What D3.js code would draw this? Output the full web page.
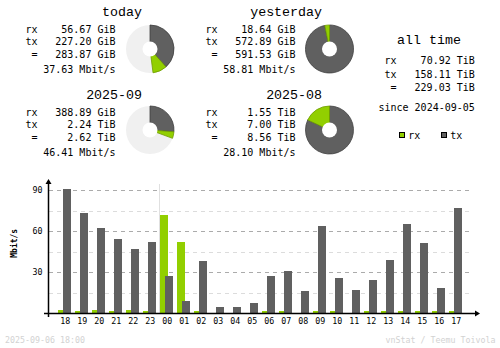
<!DOCTYPE html>
<html><head><meta charset="utf-8">
<script src="https://cdn.jsdelivr.net/npm/d3@7/dist/d3.min.js"></script>
<style>
html,body{margin:0;padding:0;background:#fff;}
svg{display:block;}
text{font-family:"DejaVu Sans Mono",monospace;fill:#000;}
text.title{font-family:"Liberation Mono","DejaVu Sans Mono",monospace;}
</style></head>
<body>
<script>
// ---- data ----
const hours = ["18","19","20","21","22","23","00","01","02","03","04","05","06","07","08","09","10","11","12","13","14","15","16","17"];
const rxRate = [2.4,1.2,2.4,1.2,2.4,1.2,72.0,52.2,1.2,0,0,0,1.2,1.2,0,1.7,1.7,0,1.2,1.2,1.7,1.2,1.2,1.7];
const txRate = [91.0,72.9,62.4,54.4,47.1,51.7,26.8,9.0,37.8,4.1,4.1,7.6,27.3,31.0,16.3,63.9,25.9,17.1,24.4,39.0,65.4,51.5,18.5,77.1];
const yTicks = [30,60,90];
const yMinorTicks = [15,45,75];

const periodTitles = ["today","yesterday","2025-09","2025-08"];
const rxLabels = ["56.67 GiB","18.64 GiB","388.89 GiB","1.55 TiB"];
const txLabels = ["227.20 GiB","572.89 GiB","2.24 TiB","7.00 TiB"];
const totalLabels = ["283.87 GiB","591.53 GiB","2.62 TiB","8.56 TiB"];
const rateLabels = ["37.63 Mbit/s","58.81 Mbit/s","46.41 Mbit/s","28.10 Mbit/s"];
const rxGiB = [56.67, 18.64, 388.89, 1.55*1024];
const txGiB = [227.20, 572.89, 2.24*1024, 7.00*1024];
const refIndex = [1, 1, 3, 3]; // pie scaled against previous period

const allTimeLabels = ["70.92 TiB","158.11 TiB","229.03 TiB"];
const sinceLabel = "since 2024-09-05";
const footerLeft = "2025-09-06 18:00";
const footerRight = "vnStat / Teemu Toivola";

const C = {rx:"#92cf00", tx:"#606060", rxEdge:"#6e9c00", txEdge:"#404040", pieBg:"#f0f0f0"};

const svg = d3.select("body").append("svg").attr("width",500).attr("height",348);

// ---- summary blocks ----
const blockX = [0,180,0,180];
const blockY = [0,0,83,83];
periodTitles.forEach((t,i)=>{
  const g = svg.append("g").attr("transform",`translate(${blockX[i]},${blockY[i]})`);
  g.append("text").attr("class","title").attr("x",142).attr("y",16).attr("text-anchor","end").style("font-size","13.3px").text(t);
  const labs = ["rx","tx"," ="];
  const vals = [rxLabels[i],txLabels[i],totalLabels[i]];
  const ys = [32.5,45,57.5];
  labs.forEach((l,k)=>{
    g.append("text").attr("x",25.5).attr("y",ys[k]).style("font-size","10px").style("white-space","pre").attr("xml:space","preserve").text(l);
    g.append("text").attr("x",115.5).attr("y",ys[k]).attr("text-anchor","end").style("font-size","10px").text(vals[k]);
  });
  g.append("text").attr("x",115.5).attr("y",72.5).attr("text-anchor","end").style("font-size","10px").text(rateLabels[i]);

  // donut
  const cx = i%2===0 ? 150 : 149.5;
  const cy = i<2 ? 49 : 130 - blockY[i];
  const ref = Math.max(rxGiB[i]+txGiB[i], rxGiB[refIndex[i]]+txGiB[refIndex[i]]);
  const full = 2*Math.PI;
  const txA = txGiB[i]/ref*full;
  const rxA = rxGiB[i]/ref*full;
  const R = 24, r0 = 7.5;
  const pg = g.append("g").attr("transform",`translate(${cx},${cy})`);
  if (txA+rxA < full-0.001) pg.append("circle").attr("r",R).attr("fill",C.pieBg);
  const arc = d3.arc().innerRadius(0).outerRadius(R);
  pg.append("path").attr("d",arc({startAngle:0,endAngle:txA})).attr("fill",C.tx).attr("stroke",C.txEdge).attr("stroke-width",0.8);
  pg.append("path").attr("d",arc({startAngle:txA,endAngle:txA+rxA})).attr("fill",C.rx).attr("stroke",C.rxEdge).attr("stroke-width",0.8);
  pg.append("circle").attr("r",r0).attr("fill","#fff");
});

// ---- all time ----
const at = svg.append("g");
at.append("text").attr("class","title").attr("x",429).attr("y",44.3).attr("text-anchor","middle").style("font-size","13.3px").attr("xml:space","preserve").text("all time");
[["rx",64.3],["tx",77.7],[" =",90.7]].forEach((d,k)=>{
  at.append("text").attr("x",384.5).attr("y",d[1]).style("font-size","10px").attr("xml:space","preserve").text(d[0]);
  at.append("text").attr("x",474.8).attr("y",d[1]).attr("text-anchor","end").style("font-size","10px").text(allTimeLabels[k]);
});
at.append("text").attr("x",474.8).attr("y",111).attr("text-anchor","end").style("font-size","10px").text(sinceLabel);
// legend
[[C.rx,399,"rx",408.2],[C.tx,441,"tx",450.2]].forEach(d=>{
  at.append("rect").attr("x",d[1]+0.5).attr("y",132.5).attr("width",5).attr("height",5).attr("fill",d[0]).attr("stroke","#000").attr("stroke-width",1).attr("shape-rendering","crispEdges");
  at.append("text").attr("x",d[3]).attr("y",138.5).style("font-size","10px").text(d[2]);
});

// ---- hourly chart ----
const x = d3.scaleBand().domain(hours).range([56.7, 56.7+17*24]).paddingInner(0).paddingOuter(0);
const y = d3.scaleLinear().domain([0,90]).range([313,190]);
const ch = svg.append("g");
const gx0 = 49, gx1 = 473;
yMinorTicks.forEach(v=>{
  ch.append("line").attr("x1",gx0).attr("x2",gx1).attr("y1",Math.round(y(v))+0.5).attr("y2",Math.round(y(v))+0.5)
    .attr("stroke","#dcdcdc").attr("stroke-dasharray","4,4").attr("shape-rendering","crispEdges");
});
yTicks.forEach(v=>{
  ch.append("line").attr("x1",gx0).attr("x2",gx1).attr("y1",Math.round(y(v))+0.5).attr("y2",Math.round(y(v))+0.5)
    .attr("stroke","#ababab").attr("stroke-dasharray","4,4").attr("shape-rendering","crispEdges");
});
// day boundary
const bx = x("00");
ch.append("line").attr("x1",Math.round(bx)+0.5).attr("x2",Math.round(bx)+0.5).attr("y1",184).attr("y2",313)
  .attr("stroke","#e0e0e0").attr("shape-rendering","crispEdges");
// bars
ch.selectAll(".rxb").data(hours).enter().append("rect")
  .attr("x",d=>Math.round(x(d)+1.5)).attr("width",8)
  .attr("y",(d,i)=>y(rxRate[i])).attr("height",(d,i)=>y(0)-y(rxRate[i]))
  .attr("fill",C.rx).attr("shape-rendering","crispEdges");
ch.selectAll(".txb").data(hours).enter().append("rect")
  .attr("x",d=>Math.round(x(d)+6.5)).attr("width",8)
  .attr("y",(d,i)=>y(txRate[i])).attr("height",(d,i)=>y(0)-y(txRate[i]))
  .attr("fill",C.tx).attr("shape-rendering","crispEdges");
// axes
ch.append("line").attr("x1",48.5).attr("x2",48.5).attr("y1",181).attr("y2",317).attr("stroke","#000").attr("stroke-width",1.5);
ch.append("path").attr("d","M48.5,179 L45.5,184 L51.5,184 Z").attr("fill","#000");
ch.append("line").attr("x1",44).attr("x2",477).attr("y1",313.5).attr("y2",313.5).attr("stroke","#000").attr("stroke-width",1.5);
ch.append("path").attr("d","M480,313.5 L475,310.5 L475,316.5 Z").attr("fill","#000");
// labels
ch.selectAll(".hl").data(hours).enter().append("text")
  .attr("x",d=>x(d)+x.bandwidth()/2).attr("y",324).attr("text-anchor","middle").style("font-size","8.3px").text(d=>d);
yTicks.forEach(v=>{
  ch.append("text").attr("x",42.6).attr("y",y(v)+3).attr("text-anchor","end").style("font-size","8.3px").text(v);
});
ch.append("text").attr("transform","translate(17.4,243.3) rotate(-90)").attr("text-anchor","middle")
  .style("font-size","8px").style("font-weight","bold").text("Mbit/s");

// footer
svg.append("text").attr("x",5).attr("y",343).style("font-size","8.3px").style("fill","#d2d2d2").text(footerLeft);
svg.append("text").attr("x",495.5).attr("y",343).attr("text-anchor","end").style("font-size","8.3px").style("fill","#d2d2d2").text(footerRight);
</script>
</body></html>
